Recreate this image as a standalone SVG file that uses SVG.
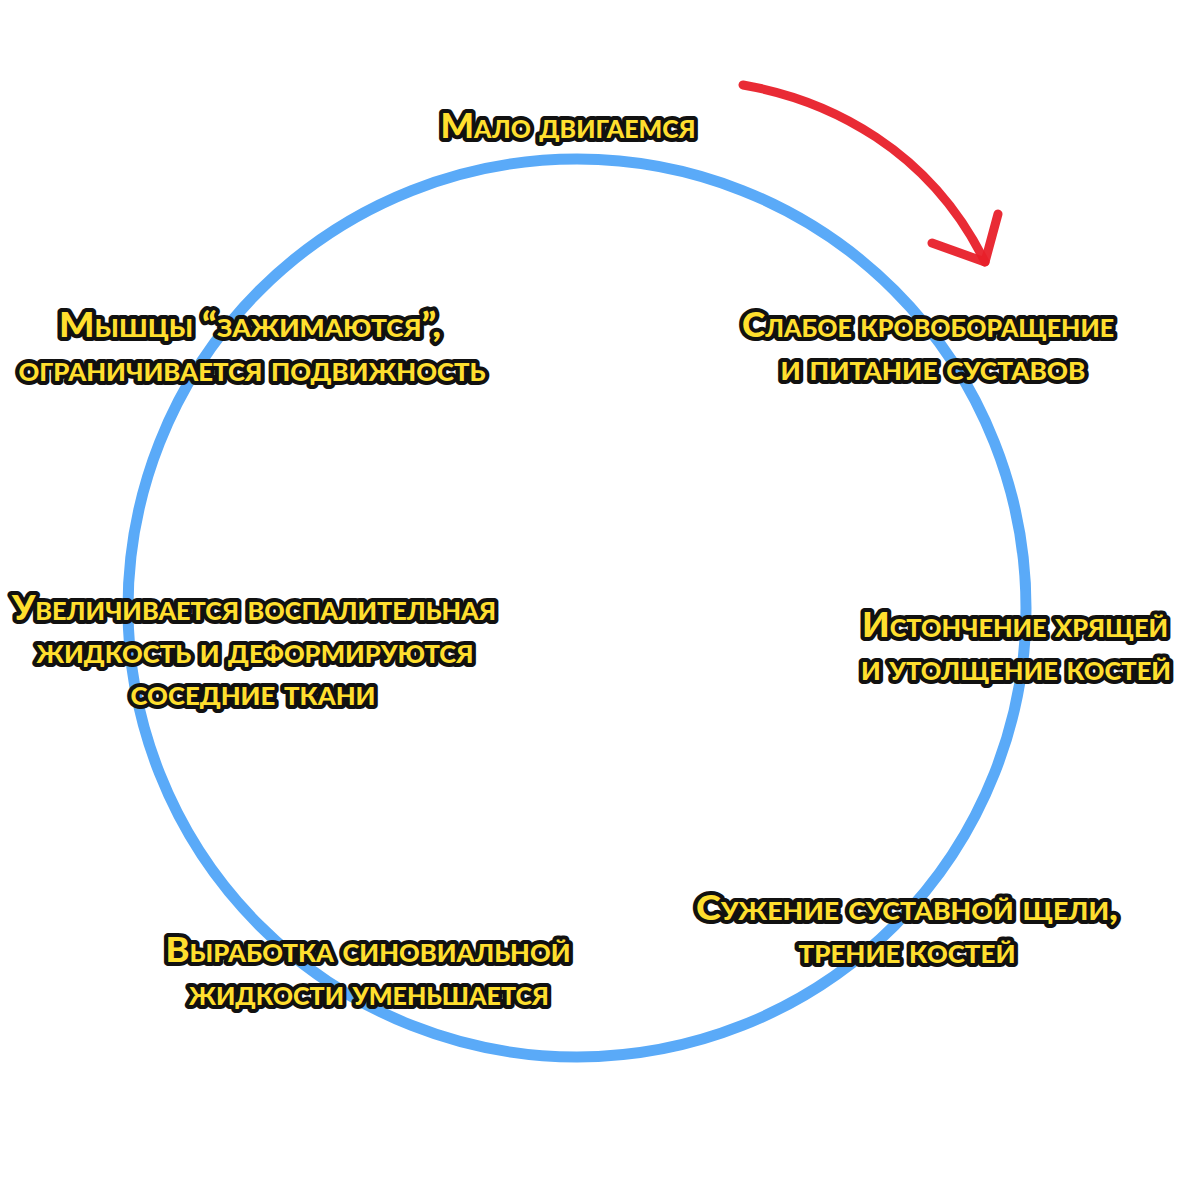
<svg xmlns="http://www.w3.org/2000/svg" width="1200" height="1200" viewBox="0 0 1200 1200">
<defs>
<style>
.lbl{font-family:Lato,"DejaVu Sans",sans-serif;font-weight:900;font-size:34px;font-variant:small-caps;fill:#ffdf2e;stroke:#111;stroke-width:8;stroke-linejoin:round;paint-order:stroke fill;text-anchor:middle}
.arrow{fill:none;stroke:#e8202a;stroke-width:9;stroke-linecap:round;stroke-linejoin:round;opacity:0.95}
</style>
</defs>
<rect width="1200" height="1200" fill="#fff"/>
<g id="cycle">
<circle cx="577" cy="608" r="449" fill="none" stroke="#5aaaf8" stroke-width="11"/>
</g>
<g id="connectors">
<path class="arrow" d="M743,85 C830,100 930,150 985,262"/>
<path class="arrow" d="M932,243 L985,262 L998,214"/>
</g>
<g id="node1"><text class="lbl" x="568" y="138" textLength="255" lengthAdjust="spacingAndGlyphs">Мало двигаемся</text></g>
<g id="node2">
<text class="lbl" x="928" y="337" textLength="372" lengthAdjust="spacingAndGlyphs">Слабое кровоборащение</text>
<text class="lbl" x="933" y="380" textLength="305" lengthAdjust="spacingAndGlyphs">и питание суставов</text>
</g>
<g id="node3">
<text class="lbl" x="1015" y="637" textLength="306" lengthAdjust="spacingAndGlyphs">Истончение хрящей</text>
<text class="lbl" x="1016" y="680" textLength="310" lengthAdjust="spacingAndGlyphs">и утолщение костей</text>
</g>
<g id="node4">
<text class="lbl" x="907" y="920" textLength="422" lengthAdjust="spacingAndGlyphs">Сужение суставной щели,</text>
<text class="lbl" x="907" y="963" textLength="217" lengthAdjust="spacingAndGlyphs">трение костей</text>
</g>
<g id="node5">
<text class="lbl" x="368" y="962" textLength="405" lengthAdjust="spacingAndGlyphs">Выработка синовиальной</text>
<text class="lbl" x="369" y="1005" textLength="360" lengthAdjust="spacingAndGlyphs">жидкости уменьшается</text>
</g>
<g id="node6">
<text class="lbl" x="254" y="620" textLength="484" lengthAdjust="spacingAndGlyphs">Увеличивается воспалительная</text>
<text class="lbl" x="255" y="663" textLength="437" lengthAdjust="spacingAndGlyphs">жидкость и деформируются</text>
<text class="lbl" x="253" y="705" textLength="245" lengthAdjust="spacingAndGlyphs">соседние ткани</text>
</g>
<g id="node7">
<text class="lbl" x="250" y="337" textLength="382" lengthAdjust="spacingAndGlyphs">Мышцы “зажимаются”,</text>
<text class="lbl" x="252" y="381" textLength="467" lengthAdjust="spacingAndGlyphs">ограничивается подвижность</text>
</g>
</svg>
